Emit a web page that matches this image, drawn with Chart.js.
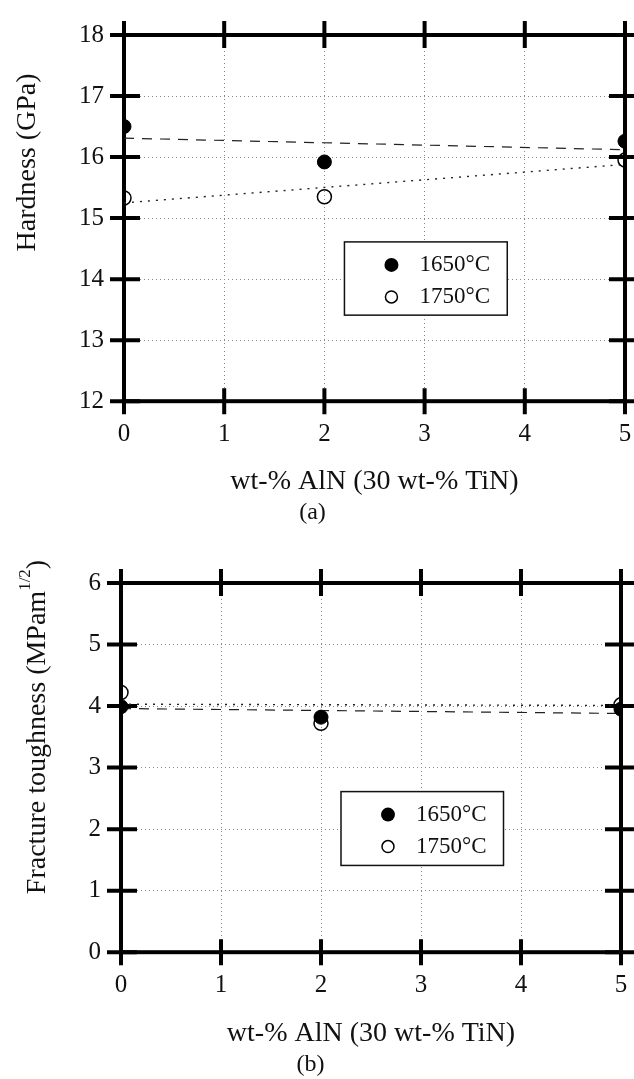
<!DOCTYPE html>
<html>
<head>
<meta charset="utf-8">
<script src="https://cdn.jsdelivr.net/npm/chart.js@4.4.1/dist/chart.umd.min.js"></script>
<style>
  html, body { margin: 0; padding: 0; background: #fff; overflow: hidden; width: 634px; height: 1079px; }
  .wrap { position: absolute; left: 0; width: 650px; }
  #wrap-a { top: 0; height: 535px; }
  #wrap-b { top: 535px; height: 544px; }
</style>
</head>
<body>
<div class="wrap" id="wrap-a"><canvas id="hardnessChart"></canvas></div>
<div class="wrap" id="wrap-b"><canvas id="toughnessChart"></canvas></div>
<script>
const xTicks = [0, 1, 2, 3, 4, 5];
const hardnessTicks = [12, 13, 14, 15, 16, 17, 18];
const toughnessTicks = [0, 1, 2, 3, 4, 5, 6];
const seriesLabels = ['1650°C', '1750°C'];
const xTitle = 'wt-% AlN (30 wt-% TiN)';

const alnContent = [0, 2, 5];
const hardness1650 = [16.5, 15.92, 16.26];
const hardness1750 = [15.33, 15.35, 15.95];
const toughness1650 = [3.99, 3.82, 3.95];
const toughness1750 = [4.22, 3.72, 4.02];

// fitted lines, read at both ends of the axis
const fitX = [0, 5];
const hardnessFit1650 = [16.31, 16.12];
const hardnessFit1750 = [15.25, 15.88];
const toughnessFit1650 = [3.96, 3.88];
const toughnessFit1750 = [4.03, 4.01];

const FONT = 'Liberation Serif, Times New Roman, serif';

function toPoints(xs, ys) {
  return xs.map((x, i) => ({ x: x, y: ys[i] }));
}

// heavy frame with ticks crossing all four sides
const framePlugin = {
  id: 'frame',
  beforeDatasetsDraw(chart) {
    const { ctx, chartArea: a, scales } = chart;
    ctx.save();
    ctx.strokeStyle = '#000';
    ctx.lineWidth = 4;
    ctx.lineCap = 'butt';
    ctx.strokeRect(a.left, a.top, a.right - a.left, a.bottom - a.top);
    ctx.beginPath();
    scales.x.ticks.forEach((t) => {
      const px = scales.x.getPixelForValue(t.value);
      ctx.moveTo(px, a.top - 14);
      ctx.lineTo(px, a.top + 13);
      ctx.moveTo(px, a.bottom - 13);
      ctx.lineTo(px, a.bottom + 13);
    });
    scales.y.ticks.forEach((t) => {
      const py = scales.y.getPixelForValue(t.value);
      ctx.moveTo(a.left - 14, py);
      ctx.lineTo(a.left + 16, py);
      ctx.moveTo(a.right - 16, py);
      ctx.lineTo(a.right + 14, py);
    });
    ctx.stroke();
    ctx.restore();
  }
};

// boxed legend inside the plot
const boxLegendPlugin = {
  id: 'boxLegend',
  afterDatasetsDraw(chart) {
    const { ctx, chartArea: a } = chart;
    const w = a.right - a.left;
    const h = a.bottom - a.top;
    const left = a.left + w * 0.44;
    const right = a.left + w * 0.765;
    const top = a.top + h * 0.565;
    const bottom = a.top + h * 0.765;
    ctx.save();
    ctx.fillStyle = '#fff';
    ctx.fillRect(left, top, right - left, bottom - top);
    ctx.strokeStyle = '#111';
    ctx.lineWidth = 1.5;
    ctx.strokeRect(left, top, right - left, bottom - top);
    const rows = [top + 23, top + 55];
    [0, 1].forEach((i) => {
      const ds = chart.data.datasets[i];
      ctx.beginPath();
      ctx.arc(left + 47, rows[i], i === 0 ? 7 : 6, 0, Math.PI * 2);
      if (i === 0) {
        ctx.fillStyle = '#000';
        ctx.fill();
      } else {
        ctx.strokeStyle = '#000';
        ctx.lineWidth = 1.5;
        ctx.stroke();
      }
      ctx.fillStyle = '#111';
      ctx.font = '23px ' + FONT;
      ctx.textBaseline = 'middle';
      ctx.textAlign = 'left';
      ctx.fillText(ds.label, left + 75, rows[i]);
    });
    ctx.restore();
  }
};

// rotated y title, with optional superscript part
const yTitlePlugin = {
  id: 'yTitle',
  afterDraw(chart, args, opts) {
    const { ctx, chartArea: a } = chart;
    const cy = a.top + (a.bottom - a.top) * opts.centerFrac;
    ctx.save();
    ctx.translate(opts.x, cy);
    ctx.rotate(-Math.PI / 2);
    ctx.fillStyle = '#111';
    ctx.textBaseline = 'middle';
    ctx.textAlign = 'left';
    const widths = opts.parts.map((p) => {
      ctx.font = (p.sup ? '17px ' : '28px ') + FONT;
      return ctx.measureText(p.text).width;
    });
    let x = -widths.reduce((s, v) => s + v, 0) / 2;
    opts.parts.forEach((p, i) => {
      ctx.font = (p.sup ? '17px ' : '28px ') + FONT;
      ctx.fillText(p.text, x, p.sup ? -12 : 0);
      x += widths[i];
    });
    ctx.restore();
  }
};

function makeChart(id, cfg) {
  const datasets = [
    {
      label: seriesLabels[0],
      data: toPoints(alnContent, cfg.s1650),
      pointRadius: 7,
      pointBackgroundColor: '#000',
      pointBorderColor: '#000',
      pointBorderWidth: 1
    },
    {
      label: seriesLabels[1],
      data: toPoints(alnContent, cfg.s1750),
      pointRadius: 7,
      pointBackgroundColor: 'rgba(255,255,255,0)',
      pointBorderColor: '#000',
      pointBorderWidth: 1.5
    },
    {
      label: 'fit 1650',
      data: toPoints(fitX, cfg.fit1650),
      showLine: true,
      pointRadius: 0,
      borderColor: '#222',
      borderWidth: 1.2,
      borderDash: [10, 8]
    },
    {
      label: 'fit 1750',
      data: toPoints(fitX, cfg.fit1750),
      showLine: true,
      pointRadius: 0,
      borderColor: '#222',
      borderWidth: 1.4,
      borderDash: [2, 6]
    }
  ];

  return new Chart(document.getElementById(id), {
    type: 'scatter',
    data: { datasets },
    options: {
      responsive: true,
      maintainAspectRatio: false,
      animation: false,
      events: [],
      layout: { padding: { top: cfg.top, right: cfg.right, left: 0, bottom: 0 } },
      plugins: {
        legend: { display: false },
        tooltip: { enabled: false },
        title: {
          display: true,
          position: 'bottom',
          text: cfg.tag,
          color: '#111',
          font: { family: FONT, size: 24, weight: 'normal' },
          padding: { top: 0, bottom: cfg.tagPad }
        },
        yTitle: { x: cfg.titleX, centerFrac: cfg.titleFrac, parts: cfg.yTitle }
      },
      scales: {
        x: {
          type: 'linear',
          min: xTicks[0],
          max: xTicks[xTicks.length - 1],
          afterBuildTicks: (s) => { s.ticks = xTicks.map((v) => ({ value: v })); },
          afterFit: (s) => { s.height = cfg.xHeight; },
          grid: { color: '#8a8a8a', lineWidth: 1, drawTicks: false },
          border: { display: false, dash: [1, 3] },
          ticks: { padding: 18, color: '#111', font: { family: FONT, size: 25 } },
          title: {
            display: true,
            text: xTitle,
            color: '#111',
            font: { family: FONT, size: 28 },
            padding: { top: 0, bottom: 0 }
          }
        },
        y: {
          type: 'linear',
          min: cfg.yTicks[0],
          max: cfg.yTicks[cfg.yTicks.length - 1],
          afterBuildTicks: (s) => { s.ticks = cfg.yTicks.map((v) => ({ value: v })); },
          afterFit: (s) => { s.width = cfg.left; },
          grid: { color: '#8a8a8a', lineWidth: 1, drawTicks: false },
          border: { display: false, dash: [1, 3] },
          ticks: { padding: 20, color: '#111', font: { family: FONT, size: 25 } }
        }
      }
    },
    plugins: [framePlugin, boxLegendPlugin, yTitlePlugin]
  });
}

makeChart('hardnessChart', {
  s1650: hardness1650,
  s1750: hardness1750,
  fit1650: hardnessFit1650,
  fit1750: hardnessFit1750,
  yTicks: hardnessTicks,
  top: 30,
  right: 25,
  left: 124,
  xHeight: 97,
  tag: '(a)',
  tagPad: 8,
  titleX: 28,
  titleFrac: 0.348,
  yTitle: [{ text: 'Hardness (GPa)' }]
});

makeChart('toughnessChart', {
  s1650: toughness1650,
  s1750: toughness1750,
  fit1650: toughnessFit1650,
  fit1750: toughnessFit1750,
  yTicks: toughnessTicks,
  top: 48,
  right: 29,
  left: 121,
  xHeight: 98,
  tag: '(b)',
  tagPad: 0,
  titleX: 38,
  titleFrac: 0.39,
  yTitle: [{ text: 'Fracture toughness (MPam' }, { text: '1/2', sup: true }, { text: ')' }]
});
</script>
</body>
</html>
